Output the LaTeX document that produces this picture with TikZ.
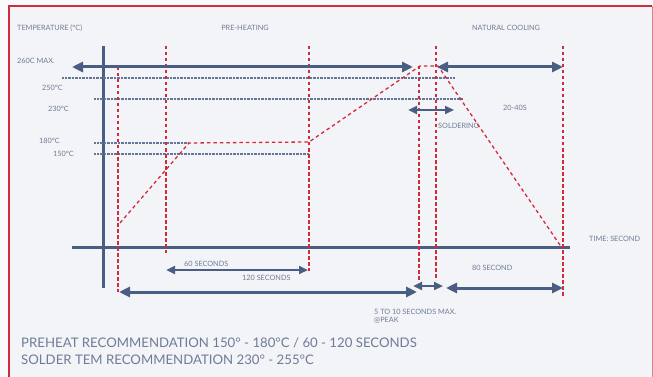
\documentclass[tikz,border=0pt]{standalone}
\usepackage{fontspec}
\setmainfont{Lato}
\usetikzlibrary{arrows.meta}
\definecolor{axis}{HTML}{4A5D82}
\definecolor{redd}{HTML}{D42A3E}
\definecolor{txt}{HTML}{6F7C97}
\definecolor{bg}{HTML}{F2F4F7}
\definecolor{outer}{HTML}{F8F9FA}
\begin{document}
\begin{tikzpicture}[x=1pt,y=-1pt,
 axisline/.style={draw=axis,line width=3pt},
 dim/.style={draw=axis,line width=3pt,{Triangle[length=11pt,width=10pt]}-{Triangle[length=11pt,width=10pt]}},
 dimsmall/.style={draw=axis,line width=2.6pt,{Triangle[length=9pt,width=8pt]}-{Triangle[length=9pt,width=8pt]}},
 guide/.style={draw=redd,line width=1.3pt,dash pattern=on 3.5pt off 2.5pt},
 profile/.style={draw=redd,line width=1.3pt,dash pattern=on 3.5pt off 3pt},
 refline/.style={draw=axis!85,line width=1.6pt,dash pattern=on 1pt off 0.4pt},
 lbl/.style={text=txt,font=\fontsize{7.3}{8.5}\selectfont,inner sep=0pt},
 big/.style={text=txt,font=\fontsize{13.2}{15}\selectfont,inner sep=0pt,anchor=west}]
\useasboundingbox (0,0) rectangle (653,377);
\fill[outer] (0,0) rectangle (653,377);
\fill[bg] (8.5,6) rectangle (652,377);
\draw[redd,line width=2pt] (8.5,377) -- (8.5,6) -- (652,6);
\draw[redd!60,line width=1pt] (652,6) -- (652,377);

% axes
\coordinate (ytop) at (103,46);
\coordinate (ybot) at (103,288);
\coordinate (xl) at (72,247);
\coordinate (xr) at (570,247);
\draw[axisline] (ytop) -- (ybot);
\draw[axisline] (xl) -- (xr);

% reference temperature lines
\coordinate (r250a) at (62,78);  \coordinate (r250b) at (455,78);
\coordinate (r230a) at (94,99);  \coordinate (r230b) at (463,99);
\coordinate (r180a) at (94,143); \coordinate (r180b) at (189,143);
\coordinate (r150a) at (94,154); \coordinate (r150b) at (309,154);
\draw[refline] (r250a) -- (r250b);
\draw[refline] (r230a) -- (r230b);
\draw[refline] (r180a) -- (r180b);
\draw[refline] (r150a) -- (r150b);

% red guides
\coordinate (g1a) at (118,67);  \coordinate (g1b) at (118,292);
\coordinate (g2a) at (166,46);  \coordinate (g2b) at (166,253);
\coordinate (g3a) at (309,46);  \coordinate (g3b) at (309,271);
\coordinate (g4a) at (419,66);  \coordinate (g4b) at (419,280);
\coordinate (g5a) at (436,46);  \coordinate (g5b) at (436,280);
\coordinate (g6a) at (563,46);  \coordinate (g6b) at (563,297);
\foreach \g in {g1,g2,g3,g4,g5,g6} \draw[guide] (\g a) -- (\g b);

% temperature profile
\coordinate (p0) at (120,223);
\coordinate (p1) at (189,143);
\coordinate (p2) at (309,142);
\coordinate (p3) at (420,66);
\coordinate (p4) at (438,66);
\coordinate (p5) at (562,248);
\draw[profile] (p0) -- (p1) -- (p2) -- (p3) -- (p4) -- (p5);

% dimension arrows
\coordinate (t1a) at (72,67);   \coordinate (t1b) at (413,67);
\coordinate (t2a) at (437,67);  \coordinate (t2b) at (563,67);
\coordinate (sa) at (408,110);  \coordinate (sb) at (454,110);
\coordinate (s60a) at (166,270); \coordinate (s60b) at (308,270);
\coordinate (s120a) at (119,292); \coordinate (s120b) at (417,292);
\coordinate (pka) at (413,286); \coordinate (pkb) at (443,286);
\coordinate (s80a) at (446,288); \coordinate (s80b) at (563,288);
\draw[dim] (t1a) -- (t1b);
\draw[dim] (t2a) -- (t2b);
\draw[dimsmall] (sa) -- (sb);
\draw[dimsmall] (s60a) -- (s60b);
\draw[dim] (s120a) -- (s120b);
\draw[dimsmall] (pka) -- (pkb);
\draw[dim] (s80a) -- (s80b);

% labels
\node[lbl,anchor=west] (ltemp) at (17,28) {TEMPERATURE (°C)};
\node[lbl] (lpre) at (245,28) {PRE-HEATING};
\node[lbl] (lcool) at (506,28) {NATURAL COOLING};
\node[lbl,anchor=west] (l260) at (17,61) {260C MAX.};
\node[lbl,anchor=west] (l250) at (42,88) {250°C};
\node[lbl,anchor=west] (l230) at (48,109) {230°C};
\node[lbl,anchor=west] (l180) at (39,141) {180°C};
\node[lbl,anchor=west] (l150) at (53,154) {150°C};
\node[lbl] (l2040) at (515,108) {20-40S};
\node[lbl,anchor=west] (lsold) at (438,126) {SOLDERING};
\node[lbl,anchor=west] (ltime) at (589,239) {TIME: SECOND};
\node[lbl,anchor=west] (l60) at (184,264) {60 SECONDS};
\node[lbl,anchor=west] (l120) at (242,278) {120 SECONDS};
\node[lbl,anchor=west] (l80) at (472,268) {80 SECOND};
\node[lbl,anchor=north west,align=left,font=\fontsize{7.3}{8.5}\selectfont] (lpeak) at (374,309) {5 TO 10 SECONDS MAX.\\@PEAK};
\node[big] (rec1) at (21,343) {PREHEAT RECOMMENDATION 150° - 180°C / 60 - 120 SECONDS};
\node[big] (rec2) at (21,360) {SOLDER TEM RECOMMENDATION 230° - 255°C};
\end{tikzpicture}
\end{document}
